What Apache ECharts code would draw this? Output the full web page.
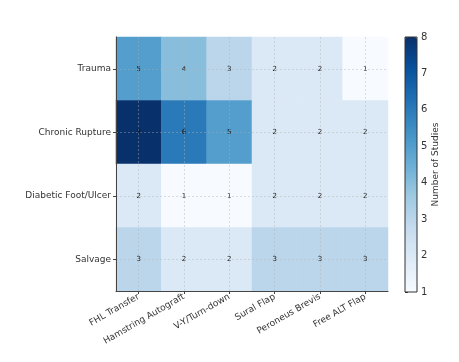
<!DOCTYPE html>
<html>
<head>
<meta charset="utf-8">
<script src="https://cdn.jsdelivr.net/npm/echarts@6/dist/echarts.min.js"></script>
<style>html,body{margin:0;padding:0;background:#fff}#c{width:459px;height:362px}</style>
</head>
<body>
<div id="c"></div>
<script>
var techniques = ['FHL Transfer', 'Hamstring Autograft', 'V-Y/Turn-down', 'Sural Flap', 'Peroneus Brevis', 'Free ALT Flap'];
var indications = ['Trauma', 'Chronic Rupture', 'Diabetic Foot/Ulcer', 'Salvage'];
var trauma = [5, 4, 3, 2, 2, 1];
var chronicRupture = [8, 6, 5, 2, 2, 2];
var diabeticFoot = [2, 1, 1, 2, 2, 2];
var salvage = [3, 2, 2, 3, 3, 3];
var colorbarTicks = [1, 2, 3, 4, 5, 6, 7, 8];

var rows = [trauma, chronicRupture, diabeticFoot, salvage];
var data = [];
rows.forEach(function (r, yi) { r.forEach(function (v, xi) { data.push([xi, yi, v]); }); });

var font = 'DejaVu Sans';
var gridX = []; for (var i = 0; i < techniques.length * 2 + 1; i++) gridX.push('');
var gridY = []; for (var j = 0; j < indications.length * 2 + 1; j++) gridY.push('');
var odd = function (i) { return i % 2 === 1; };

var chart = echarts.init(document.getElementById('c'), null, {renderer: 'canvas'});
chart.setOption({
  backgroundColor: '#fff',
  animation: false,
  textStyle: {fontFamily: font},
  grid: [
    {left: 116, top: 37, width: 272, height: 254, show: false},
    {left: 405, top: 37, width: 12, height: 255, show: true, borderColor: '#333', borderWidth: 1, backgroundColor: 'transparent', z: 10}
  ],
  xAxis: [
    {type: 'category', gridIndex: 0, data: techniques, position: 'bottom',
      axisLine: {show: true, lineStyle: {color: '#444', width: 1}},
      axisTick: {show: true, alignWithLabel: true, length: 3, lineStyle: {color: '#444'}},
      axisLabel: {rotate: 30, fontSize: 9, color: '#333', margin: 5, fontFamily: font, interval: 0},
      splitLine: {show: false}, z: 12},
    {type: 'category', gridIndex: 0, data: gridX, boundaryGap: false, position: 'top',
      axisLine: {show: false}, axisTick: {show: false}, axisLabel: {show: false},
      splitLine: {show: true, interval: odd, lineStyle: {color: '#b0b0b0', type: [2, 2], width: 0.6, opacity: 0.7}}, z: 11},
    {type: 'value', gridIndex: 1, show: false, min: 0, max: 1}
  ],
  yAxis: [
    {type: 'category', gridIndex: 0, data: indications, inverse: true,
      axisLine: {show: true, lineStyle: {color: '#444', width: 1}},
      axisTick: {show: true, alignWithLabel: true, length: 3, lineStyle: {color: '#444'}},
      axisLabel: {fontSize: 9, color: '#333', margin: 5, fontFamily: font},
      splitLine: {show: false}, z: 12},
    {type: 'category', gridIndex: 0, data: gridY, boundaryGap: false, position: 'right',
      axisLine: {show: false}, axisTick: {show: false}, axisLabel: {show: false},
      splitLine: {show: true, interval: odd, lineStyle: {color: '#b0b0b0', type: [2, 2], width: 0.6, opacity: 0.7}}, z: 11},
    {type: 'value', gridIndex: 1, min: colorbarTicks[0], max: colorbarTicks[colorbarTicks.length - 1], interval: 1, position: 'right',
      axisLine: {show: false},
      axisTick: {show: true, length: 3, lineStyle: {color: '#333'}},
      axisLabel: {fontSize: 10, color: '#333', margin: 4, fontFamily: font},
      splitLine: {show: false},
      name: 'Number of Studies', nameLocation: 'middle', nameRotate: 90, nameGap: 13,
      nameTextStyle: {fontSize: 9, color: '#333', fontFamily: font}}
  ],
  visualMap: {
    type: 'continuous', min: 1, max: 8, seriesIndex: 0, calculable: false,
    orient: 'vertical', left: 405, top: 37, itemWidth: 12, itemHeight: 255, padding: 0,
    text: null, hoverLink: false,
    inRange: {color: ['#f7fbff', '#deebf7', '#c6dbef', '#9ecae1', '#6baed6', '#4292c6', '#2171b5', '#08519c', '#08306b']}
  },
  series: [{
    type: 'heatmap', xAxisIndex: 0, yAxisIndex: 0, data: data,
    label: {show: true, fontSize: 7, color: '#111', fontFamily: font},
    itemStyle: {borderWidth: 0},
    emphasis: {disabled: true}
  }]
});
</script>
</body>
</html>
